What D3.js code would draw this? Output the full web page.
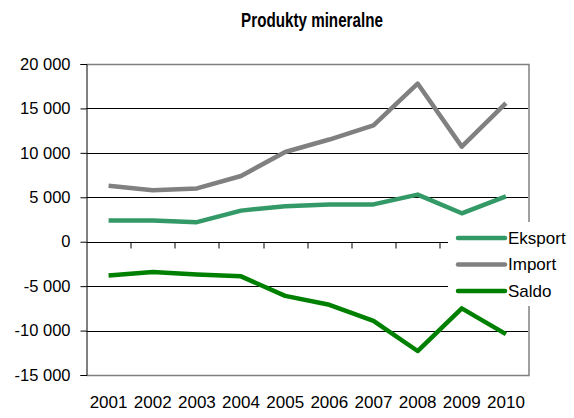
<!DOCTYPE html>
<html>
<head>
<meta charset="utf-8">
<script src="https://cdn.jsdelivr.net/npm/d3@7"></script>
<style>
  body { margin: 0; background: #fff; }
  svg { display: block; font-family: "Liberation Sans", Arial, sans-serif; }
</style>
</head>
<body>
<svg id="chart" width="574" height="418"></svg>
<script>
const years = ['2001', '2002', '2003', '2004', '2005', '2006', '2007', '2008', '2009', '2010'];
const eksport = [2400, 2400, 2200, 3500, 4000, 4200, 4200, 5300, 3200, 5100];
const imports = [6300, 5800, 6000, 7400, 10100, 11500, 13100, 17800, 10700, 15600];
const saldo = [-3800, -3400, -3700, -3900, -6100, -7100, -8900, -12300, -7500, -10400];
const yTicks = [-15000, -10000, -5000, 0, 5000, 10000, 15000, 20000];

const series = [
  { name: 'Eksport', values: eksport, color: '#339966' },
  { name: 'Import', values: imports, color: '#808080' },
  { name: 'Saldo', values: saldo, color: '#008000' }
];

const svg = d3.select('#chart');
const margin = { top: 64, right: 46, bottom: 43, left: 86.5 };
const width = +svg.attr('width');
const height = +svg.attr('height');
const innerWidth = width - margin.left - margin.right;
const innerHeight = height - margin.top - margin.bottom;

const x = d3.scaleBand().domain(years).range([0, innerWidth]);
const y = d3.scaleLinear().domain([-15000, 20000]).range([innerHeight, 0]);

const fmt = v => d3.format(',')(v).replace(/,/g, ' ').replace('−', '-');

const g = svg.append('g')
  .attr('transform', `translate(${margin.left},${margin.top})`);

// gridlines
g.selectAll('line.grid')
  .data(yTicks.filter(t => t !== 20000 && t !== -15000 && t !== 0))
  .enter()
  .append('line')
  .attr('x1', 0)
  .attr('x2', innerWidth)
  .attr('y1', d => Math.round(y(d)) + 0.5)
  .attr('y2', d => Math.round(y(d)) + 0.5)
  .attr('stroke', '#000')
  .attr('stroke-width', 1);

// plot area border (top, right, bottom)
g.append('path')
  .attr('d', `M0,${Math.round(y(20000)) + 0.5}H${Math.round(innerWidth) + 0.5}V${Math.round(y(-15000)) + 0.5}H0`)
  .attr('fill', 'none')
  .attr('stroke', '#808080')
  .attr('stroke-width', 1.5);

// y axis
const yAxis = d3.axisLeft(y).tickValues(yTicks).tickFormat(fmt).tickSize(6).tickPadding(10);
const yg = g.append('g').call(yAxis);
yg.select('.domain').attr('stroke', '#000');
yg.selectAll('text').attr('font-size', '16.5px').attr('fill', '#000');

// x axis at zero with ticks between categories
const xg = g.append('g').attr('transform', `translate(0,${Math.round(y(0)) + 0.5})`);
xg.append('line')
  .attr('x1', 0).attr('x2', innerWidth)
  .attr('stroke', '#000');
xg.selectAll('line.tick')
  .data(years.slice(1))
  .enter()
  .append('line')
  .attr('x1', d => Math.round(x(d)) + 0.5)
  .attr('x2', d => Math.round(x(d)) + 0.5)
  .attr('y1', 0)
  .attr('y2', 6)
  .attr('stroke', '#000');

// x labels at the bottom
g.append('g')
  .attr('transform', `translate(0,${innerHeight})`)
  .call(d3.axisBottom(x).tickSize(0).tickPadding(21))
  .call(a => a.select('.domain').remove())
  .selectAll('text')
  .attr('font-size', '17px')
  .attr('fill', '#000');

// lines
const line = d3.line()
  .x((d, i) => x(years[i]) + x.bandwidth() / 2)
  .y(d => y(d));

g.selectAll('path.series')
  .data(series)
  .enter()
  .append('path')
  .attr('d', d => line(d.values))
  .attr('fill', 'none')
  .attr('stroke', d => d.color)
  .attr('stroke-width', 4.5)
  .attr('stroke-linejoin', 'round');

// legend
const legend = svg.append('g').attr('transform', 'translate(448,222)');
legend.append('rect')
  .attr('width', 126)
  .attr('height', 84)
  .attr('fill', '#fff');

const item = legend.selectAll('g.item')
  .data(series)
  .enter()
  .append('g')
  .attr('transform', (d, i) => `translate(0,${16 + i * 26.5})`);

item.append('line')
  .attr('x1', 10)
  .attr('x2', 57)
  .attr('stroke', d => d.color)
  .attr('stroke-width', 4.5)
  .attr('stroke-linecap', 'round');

item.append('text')
  .attr('x', 60)
  .attr('dy', '0.35em')
  .attr('font-size', '17px')
  .text(d => d.name);

// title (narrow bold look)
svg.append('text')
  .attr('transform', 'translate(312,27) scale(0.76,1)')
  .attr('text-anchor', 'middle')
  .attr('font-weight', 'bold')
  .attr('font-size', '20px')
  .text('Produkty mineralne');
</script>
</body>
</html>
